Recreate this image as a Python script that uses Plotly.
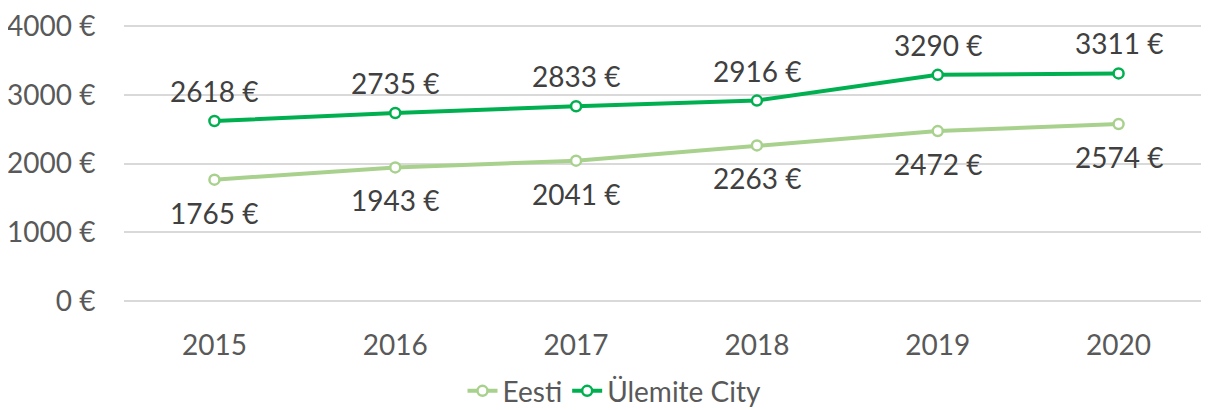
import plotly.graph_objects as go

years = ["2015", "2016", "2017", "2018", "2019", "2020"]
eesti = [1765, 1943, 2041, 2263, 2472, 2574]
ulemite = [2618, 2735, 2833, 2916, 3290, 3311]
y_ticks = [0, 1000, 2000, 3000, 4000]

FONT = "Lato, sans-serif"

fig = go.Figure()

# Eesti (light green)
fig.add_trace(go.Scatter(
    x=years, y=eesti, name="Eesti", mode="lines+markers",
    line=dict(color="#A9D18E", width=4),
    marker=dict(size=10, color="white", line=dict(color="#A9D18E", width=2.5)),
))

# Ülemite City (green)
fig.add_trace(go.Scatter(
    x=years, y=ulemite, name="Ülemite City", mode="lines+markers",
    line=dict(color="#00B050", width=4),
    marker=dict(size=10, color="white", line=dict(color="#00B050", width=2.5)),
))

# data labels (category index, so numeric-looking years are not read as indices)
for i, v in enumerate(ulemite):
    fig.add_annotation(x=i, y=v, text=f"{v} €", showarrow=False, yshift=30,
                       font=dict(family=FONT, size=28, color="#404040"))
for i, v in enumerate(eesti):
    fig.add_annotation(x=i, y=v, text=f"{v} €", showarrow=False, yshift=-33,
                       font=dict(family=FONT, size=28, color="#404040"))

# page body has an 8px margin, so the figure is 8px smaller than the window
fig.update_layout(
    width=1201, height=402,
    margin=dict(l=116, r=0, t=16, b=107),
    plot_bgcolor="white", paper_bgcolor="white",
    font=dict(family=FONT, size=28, color="#595959"),
    showlegend=True,
    legend=dict(orientation="h", xref="container", yref="container",
                x=0.505, xanchor="center", y=0.047, yanchor="middle",
                font=dict(family=FONT, size=28, color="#595959")),
)
fig.update_yaxes(range=[-30, 4030], tickvals=y_ticks,
                 ticktext=[f"{v} €" for v in y_ticks],
                 showgrid=True, gridcolor="#D9D9D9", gridwidth=1.5,
                 zeroline=False, showline=False, automargin=False,
                 ticklabeloverflow="allow",
                 ticks="outside", ticklen=22, tickcolor="rgba(0,0,0,0)")
fig.update_xaxes(type="category", range=[-0.5, 5.5], automargin=False,
                 showgrid=False, showline=False, zeroline=False,
                 ticks="outside", ticklen=17, tickcolor="rgba(0,0,0,0)")

fig.write_html("out.html")
